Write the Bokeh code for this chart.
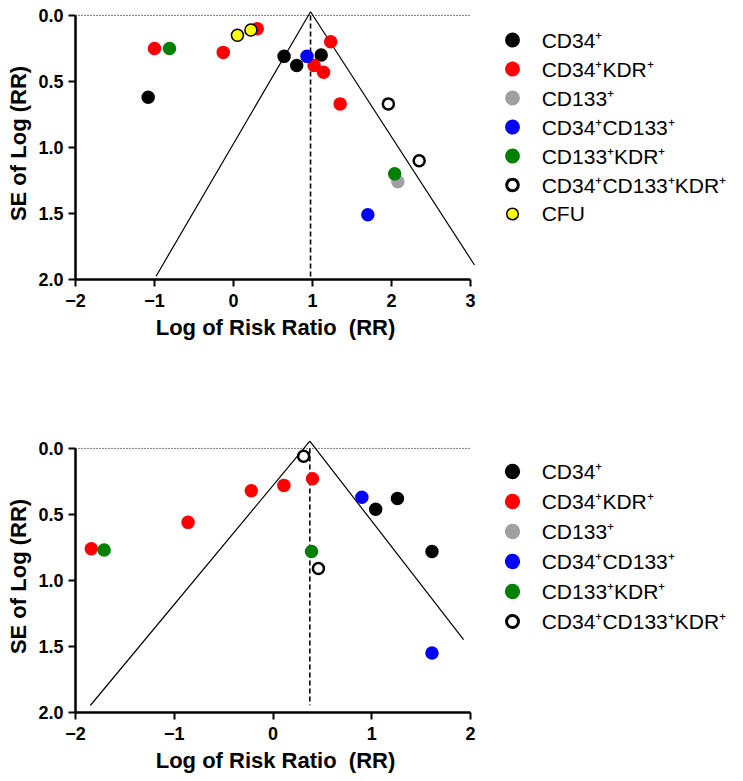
from bokeh.plotting import figure
from bokeh.models import Range1d, Legend, LegendItem, FixedTicker, NumeralTickFormatter
from bokeh.layouts import column, row
from bokeh.embed import file_html
from bokeh.resources import INLINE

series_names = ["CD34\u207a", "CD34\u207aKDR\u207a", "CD133\u207a", "CD34\u207aCD133\u207a",
                "CD133\u207aKDR\u207a", "CD34\u207aCD133\u207aKDR\u207a", "CFU"]
series_colors = ["#000000", "#ff0000", "#a0a0a4", "#0000ff", "#008000", "#ffffff", "#ffff00"]

# ---- top panel data ----
top_x = [
    [-1.08, 0.64, 0.80, 1.11],                      # CD34+
    [-1.00, -0.13, 0.30, 1.23, 1.02, 1.14, 1.35],   # CD34+KDR+
    [2.08],                                         # CD133+
    [0.93, 1.70],                                   # CD34+CD133+
    [-0.81, 2.04],                                  # CD133+KDR+
    [1.96, 2.35],                                   # CD34+CD133+KDR+
    [0.05, 0.22],                                   # CFU
]
top_y = [
    [0.62, 0.31, 0.38, 0.30],
    [0.25, 0.28, 0.10, 0.20, 0.38, 0.43, 0.67],
    [1.26],
    [0.31, 1.51],
    [0.25, 1.20],
    [0.67, 1.10],
    [0.15, 0.11],
]
top_mean = 0.975
top_mean_span = [0.0, 2.0]
top_funnel_x = [-0.98, 0.975, 3.05]
top_funnel_y = [1.975, -0.028, 1.89]
top_x_ticks = [-2, -1, 0, 1, 2, 3]

# ---- bottom panel data ----
bot_x = [
    [1.04, 1.26, 1.61],
    [-1.84, -0.86, -0.22, 0.11, 0.40],
    [],
    [0.90, 1.61],
    [-1.71, 0.39],
    [0.31, 0.46],
]
bot_y = [
    [0.46, 0.38, 0.78],
    [0.76, 0.56, 0.32, 0.28, 0.23],
    [],
    [0.37, 1.55],
    [0.77, 0.78],
    [0.06, 0.91],
]
bot_mean = 0.373
bot_mean_span = [0.0, 1.945]
bot_funnel_x = [-1.85, 0.373, 1.93]
bot_funnel_y = [1.947, -0.055, 1.448]
bot_x_ticks = [-2, -1, 0, 1, 2]

y_ticks = [0.0, 0.5, 1.0, 1.5, 2.0]

FONT = "Liberation Sans"
NAN = float("nan")


def style_marker(p, i, sx, sy, legend=False):
    col = series_colors[i]
    if i == 5:
        return p.scatter(sx, sy, size=11, fill_color="white", line_color="black",
                         line_width=3 if legend else 2.5)
    if i == 6:
        return p.scatter(sx, sy, size=12, fill_color=col, line_color="black",
                         line_width=1.5)
    return p.scatter(sx, sy, size=11.5, fill_color=col, line_color=col,
                     line_width=3.3 if legend else 2)


def make_panel(xs, ys, mean, mean_span, fx, fy, xticks, x_end, border_top, border_bottom):
    p = figure(frame_width=400, frame_height=272,
               x_range=Range1d(xticks[0], x_end), y_range=Range1d(2.0, -0.06),
               min_border_left=75, min_border_right=0,
               min_border_top=border_top, min_border_bottom=border_bottom,
               output_backend="svg", toolbar_location=None)
    p.grid.visible = False
    p.outline_line_color = None
    p.background_fill_color = "white"
    p.border_fill_color = "white"

    for ax in (p.xaxis[0], p.yaxis[0]):
        ax.axis_line_width = 2.5
        ax.axis_line_color = "black"
        ax.major_tick_line_width = 2
        ax.major_tick_line_color = "black"
        ax.major_tick_out = 7
        ax.major_tick_in = 0
        ax.minor_tick_line_color = None
        ax.major_label_text_font = FONT
        ax.major_label_text_font_style = "bold"
        ax.major_label_text_font_size = "18px"
        ax.major_label_text_color = "black"
        ax.axis_label_text_font = FONT
        ax.axis_label_text_font_style = "bold"
        ax.axis_label_text_font_size = "22px"
        ax.axis_label_text_color = "black"

    p.xaxis.ticker = FixedTicker(ticks=xticks)
    p.xaxis.bounds = (xticks[0], xticks[-1])
    p.xaxis.major_label_standoff = 7
    p.xaxis.axis_label_standoff = 5
    p.xaxis.axis_label = "Log of Risk Ratio\u00a0 (RR)"

    p.yaxis.ticker = FixedTicker(ticks=y_ticks)
    p.yaxis.formatter = NumeralTickFormatter(format="0.0")
    p.yaxis.bounds = (y_ticks[0], y_ticks[-1])
    p.yaxis.major_label_standoff = 5
    p.yaxis.axis_label_standoff = 4
    p.yaxis.axis_label = "SE of Log (RR)"

    # reference line at SE = 0
    p.line([xticks[0], xticks[-1]], [y_ticks[0], y_ticks[0]], line_color="black",
           line_width=1, line_dash="1 2")
    # funnel
    p.line(fx, fy, line_color="black", line_width=1.2)
    # mean line
    p.line([mean, mean], mean_span, line_color="black", line_width=1.6, line_dash="5 3")

    for i, (sx, sy) in enumerate(zip(xs, ys)):
        style_marker(p, i, sx, sy)
    return p


def make_legend(n, height, row_h, loc_y):
    # legend-only figure; its frame is aligned with the neighbouring plot's frame
    lf = figure(width=268, height=height, x_range=Range1d(0, 1), y_range=Range1d(0, 1),
                min_border=0, x_axis_location=None, y_axis_location=None,
                output_backend="svg", toolbar_location=None)
    lf.grid.visible = False
    lf.outline_line_color = None
    items = []
    for i in range(n):
        r = style_marker(lf, i, [NAN], [NAN], legend=True)
        items.append(LegendItem(label=series_names[i], renderers=[r]))
    leg = Legend(items=items, location=(21.7, loc_y))
    leg.glyph_width = 30
    leg.glyph_height = row_h
    leg.label_height = row_h
    leg.spacing = 0
    leg.padding = 0
    leg.margin = 0
    leg.label_standoff = 15
    leg.label_text_font = FONT
    leg.label_text_font_size = "21px"
    leg.label_text_color = "black"
    leg.border_line_color = None
    leg.background_fill_alpha = 0
    lf.add_layout(leg, "center")
    return lf


H1 = 7 + 272 + 90
H2 = 71 + 272 + 60

p1 = make_panel(top_x, top_y, top_mean, top_mean_span, top_funnel_x, top_funnel_y,
                top_x_ticks, 3.063, 7, 90)
l1 = make_legend(7, H1, 29, 51.0)
p2 = make_panel(bot_x, bot_y, bot_mean, bot_mean_span, bot_funnel_x, bot_funnel_y,
                bot_x_ticks, 2.0506, 71, 60)
l2 = make_legend(6, H2, 30, 73.0)

layout = column(row(p1, l1), row(p2, l2))
open("out.html", "w").write(file_html(layout, INLINE))
